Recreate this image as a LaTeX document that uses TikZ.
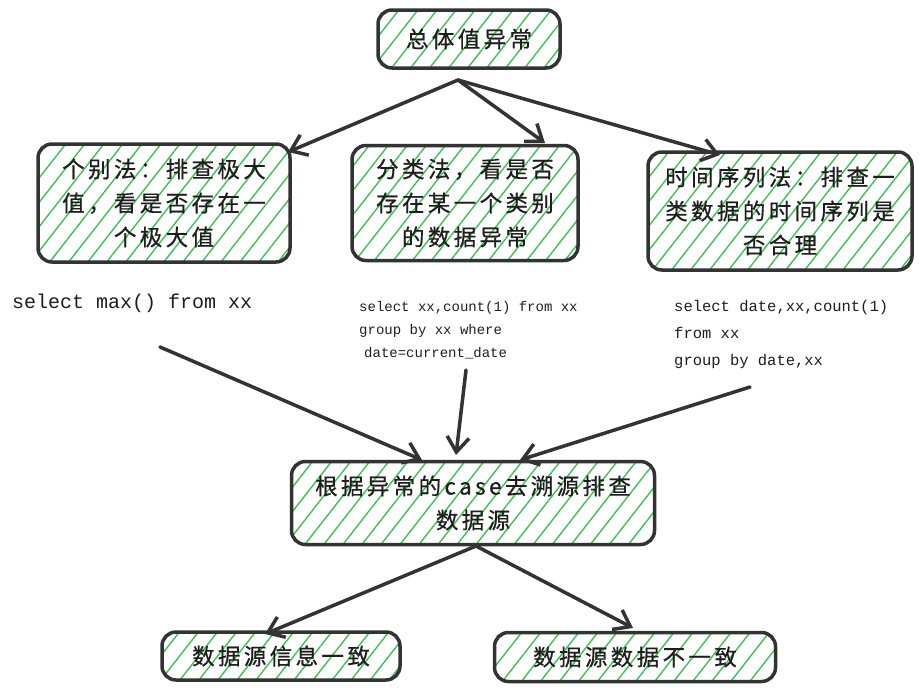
\documentclass[tikz,border=0pt]{standalone}
\usepackage{fontspec}
\newfontfamily\cjk[LetterSpace=15,FakeBold=0.6]{Noto Sans CJK SC}
\newfontfamily\codefont{Liberation Mono}
\usetikzlibrary{arrows.meta,patterns.meta}
\definecolor{hatch}{HTML}{40C057}
\definecolor{ink}{HTML}{333333}
\definecolor{txt}{HTML}{1E1E1E}
\tikzset{
  box/.style={draw=ink, line width=3.5pt, rounded corners=14pt,
    pattern={Lines[angle=52,distance=15pt,line width=1.4pt]}, pattern color=hatch,
    align=center, text=txt, inner sep=0pt,
    font=\cjk\fontsize{22.5}{34}\selectfont},
  conn/.style={draw=ink, line width=3.5pt, line cap=round,
    -{Straight Barb[length=15pt,width=22pt,line width=3.5pt]}},
  code/.style={text=txt, anchor=north west, align=left, inner sep=0pt}
}
\begin{document}
\begin{tikzpicture}[x=1pt,y=-1pt]
\useasboundingbox (0,0) rectangle (923,691);
% boxes
\node[box, minimum width=182pt, minimum height=58pt] (top) at (469,39) {总体值异常};
\node[box, minimum width=252pt, minimum height=118pt] (b1) at (164,203) {个别法：排查极大\\值，看是否存在一\\个极大值};
\node[box, minimum width=226pt, minimum height=115pt] (b2) at (465,203) {分类法，看是否\\存在某一个类别\\的数据异常};
\node[box, minimum width=264pt, minimum height=118pt] (b3) at (780,211) {时间序列法：排查一\\类数据的时间序列是\\否合理};
\node[box, minimum width=363pt, minimum height=83pt] (case) at (473,503) {根据异常的case去溯源排查\\数据源};
\node[box, minimum width=238pt, minimum height=48pt] (l) at (281,656) {数据源信息一致};
\node[box, minimum width=281pt, minimum height=49pt] (r) at (635,657) {数据源数据不一致};
% code texts
\node[code, font=\codefont\fontsize{20}{26}\selectfont] (c1) at (12,294) {select max() from xx};
\node[code, font=\codefont\fontsize{14}{23}\selectfont] (c2) at (359,301) {select xx,count(1) from xx\\group by xx where\\\hspace*{5pt}date=current\_date};
\node[code, font=\codefont\fontsize{15.5}{27}\selectfont] (c3) at (674,300) {select date,xx,count(1)\\from xx\\group by date,xx};
% connector coordinates
\coordinate (s0) at (458,80);
\coordinate (e1) at (288,152);
\coordinate (e2) at (545,143);
\coordinate (e3) at (720,155);
\coordinate (m1) at (160,347);
\coordinate (m2) at (466,370);
\coordinate (m3) at (750,387);
\coordinate (f1) at (422,460);
\coordinate (f2) at (456,455);
\coordinate (f3) at (520,460);
\coordinate (s4) at (476,546);
\coordinate (g1) at (265,634);
\coordinate (g2) at (633,628);
% connectors
\draw[conn] (s0) -- (e1);
\draw[conn] (s0) -- (e2);
\draw[conn] (s0) -- (e3);
\draw[conn] (m1) -- (f1);
\draw[conn] (m2) -- (f2);
\draw[conn] (m3) -- (f3);
\draw[conn] (s4) -- (g1);
\draw[conn] (s4) -- (g2);
\end{tikzpicture}
\end{document}
